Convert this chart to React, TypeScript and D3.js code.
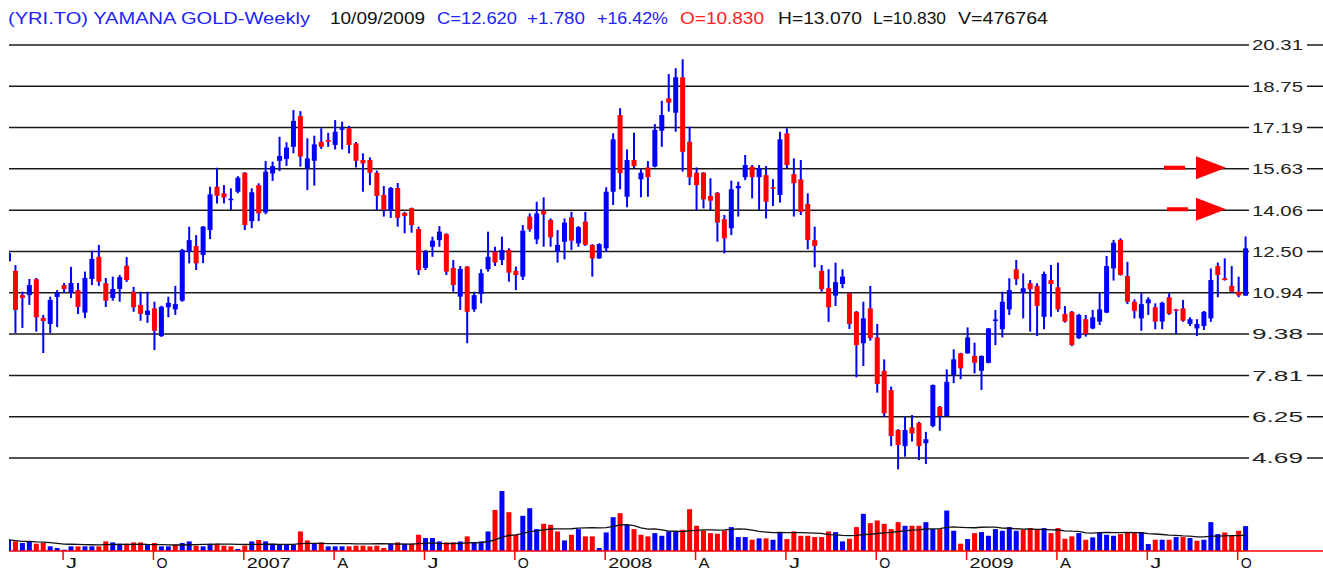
import { useMemo } from "react";
import * as d3 from "d3";

// weekly bars, first bar = week ending 12 May 2006
const opens = [12.14,11.77,10.85,10.85,11.45,9.99,9.76,10.78,11.23,10.94,11.04,10.19,11.46,12.30,11.30,10.74,11.08,11.96,10.98,10.48,10.10,10.35,9.30,10.39,10.31,10.64,12.49,12.71,12.37,13.31,14.95,14.70,14.44,14.76,15.48,13.65,15.01,13.98,15.45,15.93,16.00,16.46,17.62,15.65,15.93,16.65,16.72,16.53,17.10,17.16,16.59,15.96,15.96,15.48,14.64,14.07,14.90,13.96,14.14,13.35,11.88,12.68,12.93,13.16,11.88,10.79,11.93,10.31,10.89,11.83,12.49,12.18,12.56,11.77,11.55,13.82,12.96,14.04,13.69,12.49,12.87,13.79,12.81,13.63,12.75,12.24,12.62,14.76,17.66,14.57,15.96,15.23,15.68,15.71,17.07,18.29,17.75,19.09,16.65,15.48,15.48,14.60,14.72,13.72,13.38,14.89,15.31,15.71,15.31,15.39,14.93,14.64,16.97,15.43,15.23,14.30,12.93,11.77,11.11,10.83,11.27,10.92,10.22,9.03,10.35,9.25,7.99,7.26,5.75,5.14,5.85,6.02,5.25,5.90,6.63,6.28,7.83,8.65,8.65,8.55,7.99,8.29,9.89,9.56,10.31,11.83,10.94,11.30,11.20,10.03,11.42,11.15,10.14,10.22,9.22,9.94,9.59,9.85,10.19,11.86,12.94,11.57,10.60,9.97,10.54,10.39,9.85,10.77,10.31,10.35,9.76,9.59,9.68,9.97,11.95,11.49,11.20,10.98,10.83];
const highs = [12.53,11.99,10.98,11.46,11.50,10.10,10.79,11.04,11.31,11.92,11.31,11.74,12.53,12.75,11.50,11.55,11.61,12.29,11.16,10.98,10.98,10.60,10.45,10.79,11.20,12.60,13.44,13.12,13.46,14.95,15.67,15.01,14.89,15.35,15.50,14.89,15.08,15.92,15.90,16.84,16.63,17.85,17.81,16.78,16.88,17.16,16.99,17.47,17.41,17.25,16.64,16.21,16.06,15.56,14.98,14.94,15.09,14.00,14.16,13.44,12.56,13.06,13.46,13.19,12.18,11.95,11.95,10.98,11.83,13.25,12.68,13.06,12.62,11.93,13.50,13.94,14.38,14.55,13.75,13.31,13.75,14.00,13.46,14.00,12.78,12.81,14.93,16.97,17.92,16.36,16.99,15.61,15.92,17.32,18.20,19.21,19.43,19.77,17.22,15.68,15.50,15.27,14.75,13.88,15.18,15.14,16.15,15.77,15.77,15.73,15.23,17.03,17.16,16.02,15.96,14.70,13.44,11.99,11.83,12.08,11.83,10.95,10.25,10.60,11.20,9.76,8.42,7.39,5.78,6.25,6.32,6.06,5.68,7.47,6.66,8.04,8.80,8.67,9.63,9.05,8.57,9.61,10.29,10.98,11.49,12.18,11.67,11.42,11.30,11.74,11.99,12.08,10.44,10.25,10.14,10.10,10.29,10.92,12.33,12.94,13.00,12.11,10.69,10.92,10.77,10.54,10.60,10.92,10.33,10.67,10.01,9.94,10.25,11.86,12.08,12.24,11.95,11.55,13.07];
const lows = [12.10,9.42,9.61,10.48,9.47,8.66,9.42,9.64,10.93,10.74,10.14,9.98,11.23,11.20,10.40,10.64,10.60,11.35,10.22,9.88,9.80,8.77,9.27,10.01,10.10,10.60,12.05,11.80,12.06,12.97,14.32,14.32,14.07,14.70,13.31,13.38,13.65,13.91,15.17,15.54,15.74,16.21,15.71,14.82,14.99,16.38,16.46,16.36,16.36,16.21,15.68,14.76,15.01,14.07,13.82,13.77,13.44,13.19,13.21,11.61,11.80,12.30,12.68,11.61,10.98,10.29,9.03,10.22,10.54,11.74,11.95,11.99,11.36,11.04,11.42,13.25,12.78,12.68,12.68,12.08,12.20,12.56,12.68,12.71,11.55,12.22,12.49,14.26,14.85,14.17,15.65,14.55,14.57,15.68,16.46,17.79,17.03,15.52,15.01,14.07,14.13,14.07,12.87,12.43,13.12,13.82,15.20,14.51,14.07,13.75,14.22,14.35,15.65,13.82,13.88,12.58,11.90,10.98,9.84,10.44,11.11,9.57,7.74,8.17,9.13,7.16,6.25,5.14,4.26,4.74,5.31,4.61,4.46,5.85,5.72,6.26,7.52,7.67,8.63,7.89,7.26,8.27,8.96,9.25,10.10,11.23,9.97,9.47,9.30,9.56,10.03,10.22,9.81,8.92,9.19,9.28,9.56,9.72,10.17,11.40,11.59,10.51,9.97,9.50,10.10,9.56,9.56,10.10,9.38,9.84,9.68,9.30,9.53,9.84,10.77,11.40,10.94,10.77,10.83];
const closes = [12.44,10.29,10.74,11.23,10.01,9.87,10.67,10.93,11.08,11.31,10.40,11.50,12.22,11.36,10.64,11.08,11.53,11.42,10.39,10.14,10.26,9.50,10.41,10.56,10.51,12.56,12.93,12.05,13.44,14.66,14.61,14.54,14.50,15.29,13.50,14.74,13.94,15.52,15.73,16.11,16.43,17.44,16.09,16.02,16.55,16.46,16.65,17.03,17.16,16.53,15.93,15.83,15.48,14.60,14.07,14.90,13.77,13.84,13.50,11.80,12.49,12.91,13.25,11.74,11.23,11.84,10.22,10.85,11.68,12.30,12.08,12.56,11.70,11.61,13.29,13.34,13.94,13.90,13.04,12.75,13.59,12.91,13.42,12.75,12.24,12.78,14.76,16.74,15.46,15.96,15.73,15.48,15.31,17.10,17.66,18.13,19.09,16.27,15.31,15.01,14.47,14.42,13.59,13.00,14.85,14.98,15.77,15.31,15.65,14.38,14.89,16.74,15.77,15.08,14.00,12.93,12.71,11.07,10.39,11.34,11.55,9.76,8.96,9.97,9.22,7.49,6.38,5.52,5.18,5.75,5.62,5.14,5.40,7.45,6.28,7.57,8.42,8.08,9.25,8.29,8.55,9.59,9.93,10.60,11.04,11.45,11.11,11.07,10.44,11.65,11.27,10.31,9.85,8.96,10.10,9.38,10.01,10.31,11.95,12.83,11.61,10.60,10.26,10.51,10.69,9.85,10.56,10.14,10.26,9.88,9.94,9.76,10.22,11.42,11.61,11.42,10.98,10.84,12.62];
// volume, thousands of shares
const volumes = [216,184,153,184,140,153,89,57,25,89,89,89,89,89,184,165,140,140,165,165,121,153,89,89,121,153,184,102,89,140,140,102,89,38,102,184,210,184,140,121,121,121,375,203,140,165,89,89,89,89,102,102,89,102,57,140,165,140,140,311,248,248,184,165,165,184,280,165,184,375,788,1150,744,311,674,820,420,521,502,375,203,311,420,280,280,57,356,648,725,502,420,311,280,343,292,375,375,407,801,483,394,343,331,394,458,267,267,216,242,242,216,362,229,375,292,292,267,267,375,362,184,235,458,712,534,585,521,420,553,483,483,483,553,420,420,776,388,140,229,343,362,292,420,388,458,388,407,439,407,439,343,439,235,280,343,216,261,362,311,292,324,362,343,362,133,216,216,216,267,267,248,197,216,553,324,356,292,388,477];

const priceLevels = [20.31, 18.75, 17.19, 15.63, 14.06, 12.5, 10.94, 9.38, 7.81, 6.25, 4.69];
const arrowLevels = [15.63, 14.06];
const tickLabels = ["J", "O", "2007", "A", "J", "O", "2008", "A", "J", "O", "2009", "A", "J", "O"];

// header pieces: text, colour, left, width
const header: [string, string, number, number][] = [
  ["(YRI.TO) YAMANA GOLD-Weekly", "#2222ff", 8, 302],
  ["10/09/2009", "#111", 330, 95],
  ["C=12.620", "#2222ff", 437, 80],
  ["+1.780", "#2222ff", 527, 58],
  ["+16.42%", "#2222ff", 597, 71],
  ["O=10.830", "#ff2222", 680, 84],
  ["H=13.070", "#111", 778, 84],
  ["L=10.830", "#111", 873, 73],
  ["V=476764", "#111", 958, 90],
];

const BLUE = "#0000ff";
const RED = "#ff0000";
const W = 1323;
const H = 571;

export default function App() {
  const n = closes.length;
  const x = d3.scaleLinear().domain([0, n - 1]).range([8.5, 1245.6]);
  const y = d3.scaleLinear().domain([4.69, 20.31]).range([458, 45]);
  const vy = d3.scaleLinear().domain([0, d3.max(volumes) || 1]).range([551, 491]);

  const ticks = useMemo(() => {
    const start = new Date(2006, 4, 12);
    const dates = d3.range(n).map((i) => d3.timeDay.offset(start, 7 * i));
    const idx: number[] = [];
    dates.forEach((d, i) => {
      if (i > 0 && d.getMonth() % 3 === 0 && dates[i - 1].getMonth() !== d.getMonth()) idx.push(i);
    });
    return idx.map((i, k) => ({ i, label: tickLabels[k] }));
  }, [n]);

  // 20-week average of volume
  const volAvg = volumes.map((_, i) => d3.mean(volumes.slice(Math.max(0, i - 19), i + 1)) || 0);
  const avgLine = d3
    .line<number>()
    .x((_, i) => x(i))
    .y((v) => vy(v));

  const font = "'Liberation Sans', Arial, sans-serif";

  return (
    <svg
      width={W}
      height={H}
      style={{ position: "absolute", left: 0, top: 0, background: "#fff" }}
      fontFamily={font}
    >
      <defs>
        <clipPath id="plot">
          <rect x={9} y={0} width={1240} height={H} />
        </clipPath>
      </defs>

      {/* header */}
      <g fontSize={16}>
        {header.map(([t, c, hx, w]) => (
          <text key={t} x={hx} y={24} fill={c} textLength={w} lengthAdjust="spacingAndGlyphs">
            {t}
          </text>
        ))}
      </g>

      {/* grid + price labels */}
      {priceLevels.map((p) => (
        <g key={p}>
          <line x1={9} x2={W} y1={y(p)} y2={y(p)} stroke="#1a1a1a" strokeWidth={1.4} />
          <rect x={1249} y={y(p) - 8} width={58} height={16} fill="#fff" />
          <text
            x={1252}
            y={y(p)}
            dy="0.36em"
            fontSize={15}
            fill="#222"
            textLength={51}
            lengthAdjust="spacingAndGlyphs"
          >
            {p.toFixed(2)}
          </text>
        </g>
      ))}

      {/* candles */}
      <g clipPath="url(#plot)">
        {closes.map((c, i) => {
          const o = opens[i];
          const top = y(Math.max(o, c));
          const bot = y(Math.min(o, c));
          return (
            <g key={i}>
              <line x1={x(i)} x2={x(i)} y1={y(highs[i])} y2={y(lows[i])} stroke={BLUE} strokeWidth={2} />
              <rect
                x={x(i) - 2.5}
                y={top}
                width={5}
                height={Math.max(1.5, bot - top)}
                fill={c >= o ? BLUE : RED}
              />
            </g>
          );
        })}
      </g>

      {/* arrows */}
      {arrowLevels.map((p, k) => {
        const cy = y(p) - 1;
        const dx = k === 0 ? 0 : 3;
        return (
          <g key={p} fill={RED}>
            <rect x={1164 + dx} y={cy - 2} width={21} height={4} />
            <path d={`M1196,${cy - 11.5}L1226,${cy}L1196,${cy + 11.5}Z`} />
          </g>
        );
      })}

      {/* volume */}
      <g clipPath="url(#plot)">
        {volumes.map((v, i) => (
          <rect
            key={i}
            x={x(i) - 2.5}
            y={vy(v)}
            width={5}
            height={551 - vy(v)}
            fill={i === 0 || closes[i] >= closes[i - 1] ? BLUE : RED}
          />
        ))}
        <path d={avgLine(volAvg) || ""} fill="none" stroke="#111" strokeWidth={1.3} />
      </g>
      <line x1={9} x2={W} y1={551} y2={551} stroke={RED} strokeWidth={1.5} />

      {/* time axis */}
      {ticks.map((t) => (
        <g key={t.i}>
          <line x1={x(t.i) - 1} x2={x(t.i) - 1} y1={551} y2={560} stroke={RED} strokeWidth={1.5} />
          <text
            x={x(t.i) + 2}
            y={568}
            fontSize={14}
            fill="#111"
            textLength={t.label.length > 1 ? 44 : 11}
            lengthAdjust="spacingAndGlyphs"
          >
            {t.label}
          </text>
        </g>
      ))}
    </svg>
  );
}
